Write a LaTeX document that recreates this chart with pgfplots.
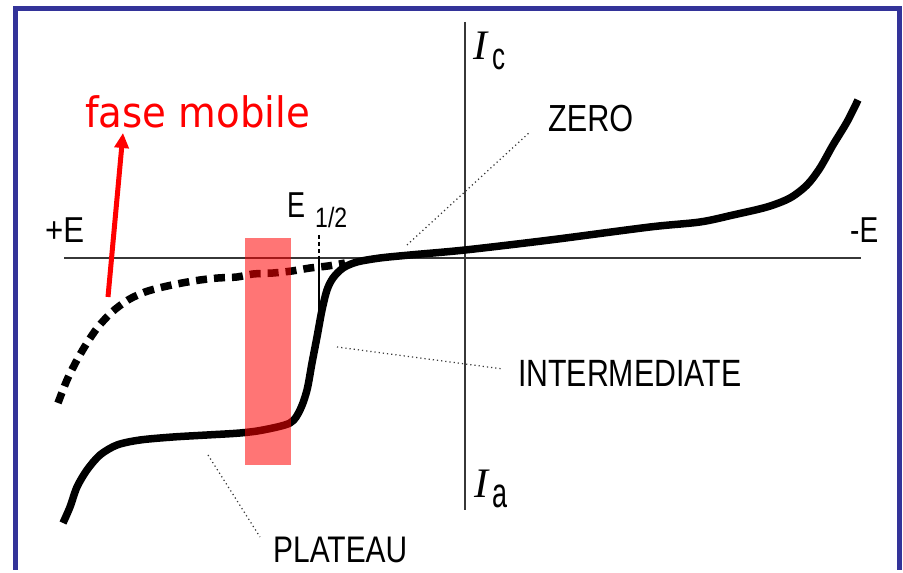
\documentclass[border=0pt]{standalone}
\usepackage{fontspec}
\setmainfont{Liberation Sans}
\newfontfamily\serifit{Liberation Serif}
\newfontfamily\handfont{DejaVu Sans}
\usepackage{pgfplots}
\pgfplotsset{compat=1.18}
\usetikzlibrary{arrows.meta}
\definecolor{frameblue}{RGB}{51,51,153}
\definecolor{axisgray}{RGB}{55,55,55}
% label squeezed to a given width, natural height kept
\newcommand{\lab}[3]{\resizebox{#1}{\height}{\fontsize{#2}{#2}\selectfont #3}}

\begin{document}
\begin{tikzpicture}
\begin{axis}[
    hide axis,
    scale only axis,
    width=903pt, height=570pt,
    xmin=-465, xmax=438,
    ymin=-312, ymax=258,
    clip=false,
]
\fill[white] (rel axis cs:0,0) rectangle (rel axis cs:1,1);

% frame
\addplot[frameblue, line width=5pt] coordinates {(-449.5,-312) (-449.5,249.5) (434.5,249.5) (434.5,-312)};

% axes
\addplot[axisgray, line width=2pt] coordinates {(-401,0) (396,0)};
\addplot[axisgray, line width=2pt] coordinates {(0,236) (0,-252)};

% leader lines
\addplot[axisgray, line width=1.2pt, dash pattern=on 1.2pt off 3pt] coordinates {(-58,13) (65,126)};
\addplot[axisgray, line width=1.2pt, dash pattern=on 1.2pt off 3pt] coordinates {(-128,-89) (38,-111)};
\addplot[axisgray, line width=1.2pt, dash pattern=on 1.2pt off 3pt] coordinates {(-257,-197) (-205,-279)};

% polarogram, full wave
\addplot[black, line width=7.5pt, smooth, tension=0.5] coordinates {
    (-402,-265) (-395,-249) (-388,-229) (-378,-212) (-365,-197) (-348,-187)
    (-325,-182) (-292,-179) (-258,-177) (-225,-175) (-202,-172) (-175,-165)
    (-165,-152) (-158,-132) (-153,-105) (-148,-79) (-143,-52) (-138,-32)
    (-132,-20) (-122,-10) (-108,-4) (-85,0) (-55,3) (0,8) (85,18) (185,31)
    (235,36) (268,43) (302,51) (325,60) (342,73) (355,90) (368,113)
    (382,136) (393,158)
};

% mobile phase background (dashed)
\addplot[black, line width=7.5pt, smooth, tension=0.5, dash pattern=on 11pt off 7pt] coordinates {
    (-407,-145) (-398,-122) (-388,-102) (-378,-85) (-367,-69) (-353,-54)
    (-337,-42) (-320,-34) (-302,-29) (-283,-25) (-265,-22) (-247,-20)
    (-228,-19) (-212,-16) (-192,-15) (-173,-13) (-155,-10) (-137,-8) (-120,-5)
};

% E 1/2 marker
\addplot[black, line width=1.5pt, dash pattern=on 4pt off 3pt] coordinates {(-146,23) (-146,0)};
\addplot[black, line width=1.5pt] coordinates {(-146,0) (-146,-55)};

% highlighted band
\addplot[draw=none, fill=red, fill opacity=0.54] coordinates {(-220,20) (-174,20) (-174,-207) (-220,-207)} --cycle;

% arrow
\addplot[red, line width=5pt, -{Triangle[length=15pt,width=14pt]}] coordinates {(-357,-39) (-342,125)};

% texts
\node[anchor=base west, inner sep=0, text=red] at (axis cs:-380,130) {\resizebox{225pt}{\height}{\handfont\fontsize{42}{42}\selectfont fase mobile}};
\node[anchor=base west, inner sep=0] at (axis cs:-420,15) {\lab{39pt}{36pt}{+E}};
\node[anchor=base west, inner sep=0] at (axis cs:385,15) {\lab{28pt}{36pt}{-E}};
\node[anchor=base west, inner sep=0] at (axis cs:-178,40) {\lab{18pt}{36pt}{E}};
\node[anchor=base west, inner sep=0] at (axis cs:-150,30) {\lab{32pt}{28pt}{1/2}};
\node[anchor=base west, inner sep=0] at (axis cs:8,198) {\serifit\itshape\fontsize{42}{42}\selectfont I};
\node[anchor=base west, inner sep=0] at (axis cs:27,188) {\lab{13pt}{38pt}{c}};
\node[anchor=base west, inner sep=0] at (axis cs:9,-240) {\serifit\itshape\fontsize{42}{42}\selectfont I};
\node[anchor=base west, inner sep=0] at (axis cs:27,-250) {\lab{15pt}{42pt}{a}};
\node[anchor=base west, inner sep=0] at (axis cs:83,126) {\lab{85pt}{37.7pt}{ZERO}};
\node[anchor=base west, inner sep=0] at (axis cs:53,-129) {\lab{223pt}{38pt}{INTERMEDIATE}};
\node[anchor=base west, inner sep=0] at (axis cs:-192,-305) {\lab{134pt}{37pt}{PLATEAU}};
\end{axis}
\end{tikzpicture}
\end{document}
